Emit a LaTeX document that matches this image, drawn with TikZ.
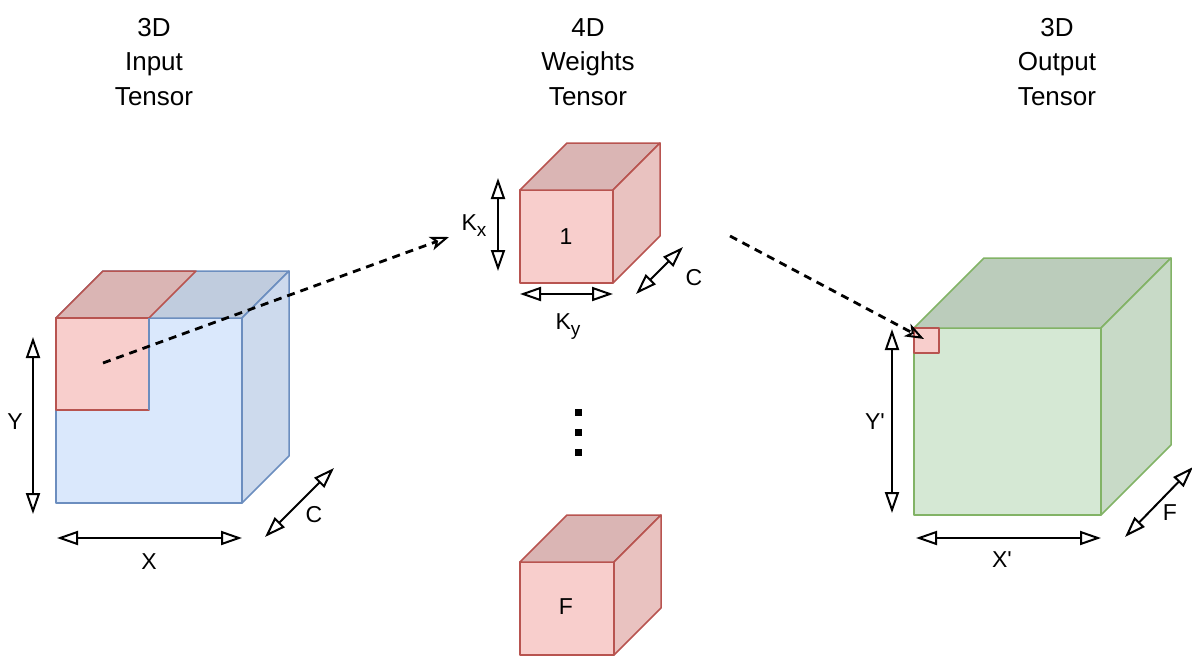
\documentclass[tikz,border=0pt]{standalone}
\usepackage{fontspec}
\setmainfont{Liberation Sans}[Ligatures=TeXOff]
\usetikzlibrary{arrows.meta}
\definecolor{bfill}{HTML}{DAE8FC}
\definecolor{bline}{HTML}{6C8EBF}
\definecolor{rfill}{HTML}{F8CECC}
\definecolor{rline}{HTML}{B85450}
\definecolor{gfill}{HTML}{D5E8D4}
\definecolor{gline}{HTML}{82B366}
\tikzset{
  face/.style={line width=1.5pt, line join=round},
  dimarrow/.style={line width=2pt,
    {Triangle[open,length=21pt,width=14pt,line width=2pt]}-{Triangle[open,length=21pt,width=14pt,line width=2pt]}},
  flow/.style={line width=2.8pt, dash pattern=on 8pt off 6pt,
    -{Stealth[open,length=19pt,width=14pt,inset=5pt,line width=2pt]}},
  title/.style={align=center, font=\fontsize{26}{34.5}\selectfont, inner sep=0pt},
  lbl/.style={font=\fontsize{23}{28}\selectfont, inner sep=0pt},
  dot/.style={fill=black, minimum size=7pt, inner sep=0pt}
}
% cube: x, y (front top-left), w, h, d, fill, line
\newcommand\mycube[7]{%
  \filldraw[face, fill=#6, draw=#7] (#1,#2) rectangle ({#1+#3},{#2+#4});
  \filldraw[face, fill=#6!88!black, draw=#7] (#1,#2) -- ({#1+#5},{#2-#5}) -- ({#1+#3+#5},{#2-#5}) -- ({#1+#3},#2) -- cycle;
  \filldraw[face, fill=#6!94!black, draw=#7] ({#1+#3},#2) -- ({#1+#3+#5},{#2-#5}) -- ({#1+#3+#5},{#2+#4-#5}) -- ({#1+#3},{#2+#4}) -- cycle;
}
\begin{document}
\begin{tikzpicture}[x=1pt,y=-1pt]
\useasboundingbox (0,0) rectangle (1192,659);

% titles
\node[title] (t1) at (154,62) {3D\\Input\\Tensor};
\node[title] (t2) at (588,62) {4D\\Weights\\Tensor};
\node[title] (t3) at (1057,62) {3D\\Output\\Tensor};

% input cube
\mycube{56}{318}{186}{185}{47}{bfill}{bline}
\filldraw[face, fill=rfill!88!black, draw=rline] (56,318) -- (103,271) -- (196,271) -- (149,318) -- cycle;
\filldraw[face, fill=rfill, draw=rline] (56,318) rectangle (149,410);
\draw[face, draw=bline] (149,318) -- (149,410);

% weight cubes
\mycube{520}{190}{93}{93}{47}{rfill}{rline}
\node[lbl] (w1) at (566,237) {1};
\mycube{520}{562}{94}{93}{47}{rfill}{rline}
\node[lbl] (wf) at (566,607) {F};

% dots
\node[dot] (d1) at (578,412) {};
\node[dot] (d2) at (578,432) {};
\node[dot] (d3) at (578,452) {};

% output cube
\mycube{914}{328}{187}{187}{70}{gfill}{gline}
\filldraw[face, fill=rfill, draw=rline] (914,328) rectangle (939,353);

% dimension arrows - input
\coordinate (ya) at (33,337); \coordinate (yb) at (33,514);
\draw[dimarrow] (ya) -- (yb);
\node[lbl] (ly) at (15,422) {Y};
\coordinate (xa) at (57,538); \coordinate (xb) at (242,538);
\draw[dimarrow] (xa) -- (xb);
\node[lbl] (lx) at (149,562) {X};
\coordinate (ca) at (265,537); \coordinate (cb) at (334,468);
\draw[dimarrow] (ca) -- (cb);
\node[lbl] (lc) at (314,515) {C};

% dimension arrows - weights
\coordinate (kxa) at (498,178); \coordinate (kxb) at (498,271);
\draw[dimarrow] (kxa) -- (kxb);
\node[lbl, anchor=base] (lkx) at (474,230) {K\raisebox{-6pt}{\fontsize{19}{19}\selectfont x}};
\coordinate (kya) at (520,294); \coordinate (kyb) at (613,294);
\draw[dimarrow] (kya) -- (kyb);
\node[lbl, anchor=base] (lky) at (568,329) {K\raisebox{-6pt}{\fontsize{19}{19}\selectfont y}};
\coordinate (cwa) at (636,294); \coordinate (cwb) at (683,247);
\draw[dimarrow] (cwa) -- (cwb);
\node[lbl] (lcw) at (694,278) {C};

% dimension arrows - output
\coordinate (ypa) at (892,329); \coordinate (ypb) at (892,513);
\draw[dimarrow] (ypa) -- (ypb);
\node[lbl] (lyp) at (875,422) {Y'};
\coordinate (xpa) at (916,538); \coordinate (xpb) at (1101,538);
\draw[dimarrow] (xpa) -- (xpb);
\node[lbl] (lxp) at (1002,560) {X'};
\coordinate (fa) at (1125,537); \coordinate (fb) at (1193,467);
\draw[dimarrow] (fa) -- (fb);
\node[lbl] (lf) at (1170,513) {F};

% flow arrows
\coordinate (s1) at (103,363); \coordinate (e1) at (449,237);
\draw[flow] (s1) -- (e1);
\coordinate (s2) at (730,236); \coordinate (e2) at (924,339);
\draw[flow] (s2) -- (e2);
\end{tikzpicture}
\end{document}
